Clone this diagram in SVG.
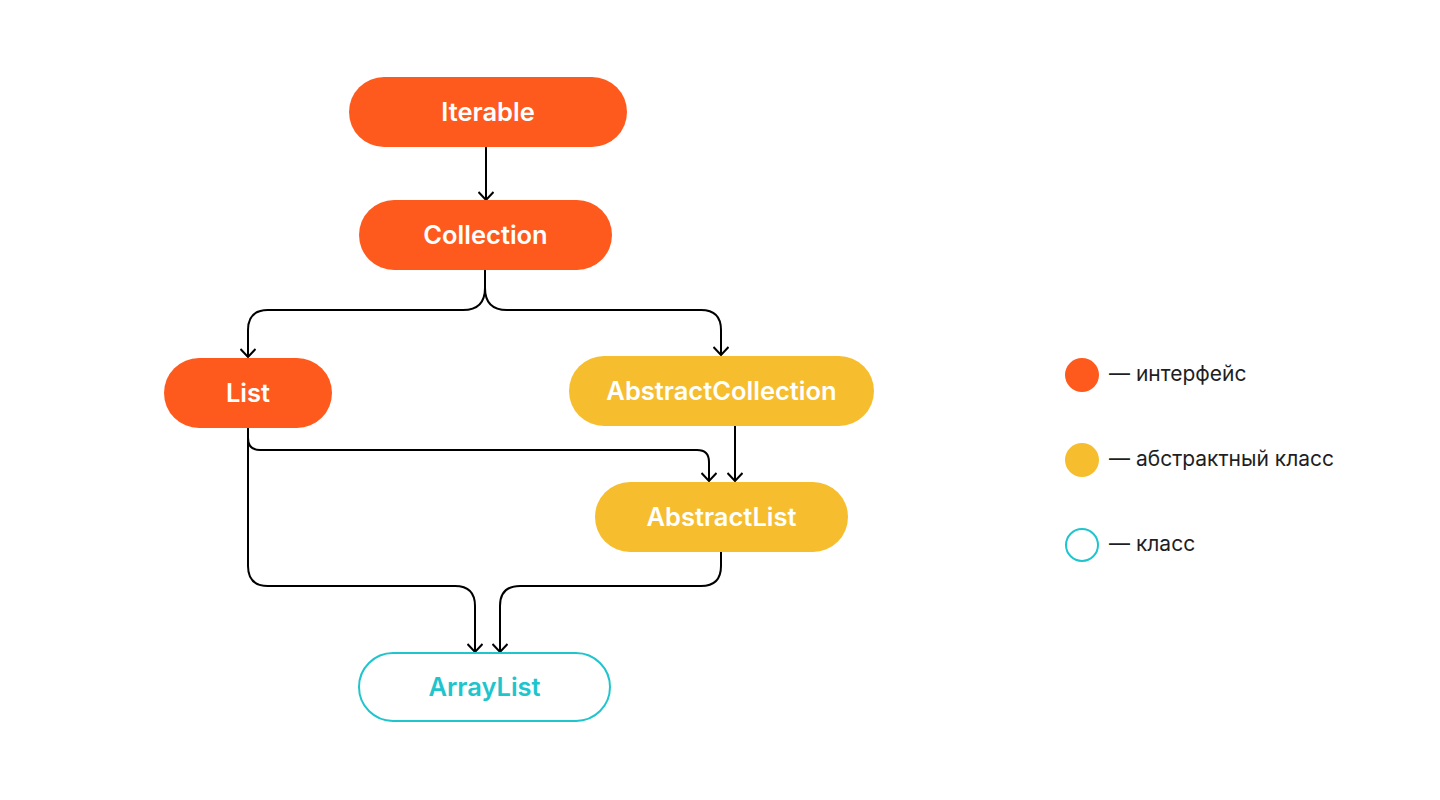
<svg xmlns="http://www.w3.org/2000/svg" width="1440" height="800" viewBox="0 0 1440 800">
<style>
.iface{fill:#FF5A1D;}
.abs{fill:#F6BE2E;}
.cls{fill:#FFFFFF;stroke:#1FC5CD;stroke-width:2;}
.lbl{font-family:Inter,"Noto Sans",sans-serif;font-weight:600;font-size:25.5px;fill:#FFFFFF;text-anchor:middle;}
.lbl-cls{fill:#1FC5CD;}
.edge{fill:none;stroke:#000;stroke-width:2;marker-end:url(#arr);}
.leg{font-family:Inter,"Noto Sans",sans-serif;font-size:21px;fill:#1E1E24;}
</style>
<defs>
<marker id="arr" viewBox="0 0 10 16" refX="9" refY="8" markerWidth="10" markerHeight="16" markerUnits="userSpaceOnUse" orient="auto">
<path d="M1,0.5 L9,8 L1,15.5" fill="none" stroke="#000" stroke-width="2"/>
</marker>
</defs>
<rect width="1440" height="800" fill="#FFFFFF"/>
<g id="connectors">
<path class="edge" d="M486,147 V200"/>
<path class="edge" d="M485,270 V288 Q485,310 463,310 H268 Q248,310 248,330 V357"/>
<path class="edge" d="M485,270 V288 Q485,310 507,310 H701 Q721,310 721,330 V355"/>
<path class="edge" d="M735,426 V481"/>
<path class="edge" d="M248,428 V438 Q248,450 260,450 H697 Q709,450 709,462 V481"/>
<path class="edge" d="M248,428 V566 Q248,586 268,586 H455 Q475,586 475,606 V652"/>
<path class="edge" d="M721,552 V566 Q721,586 701,586 H520 Q500,586 500,606 V652"/>
</g>
<g id="node-iterable">
<rect class="iface" x="349" y="77" width="278" height="70" rx="35"/>
<text class="lbl" x="488" y="121">Iterable</text>
</g>
<g id="node-collection">
<rect class="iface" x="359" y="200" width="253" height="70" rx="35"/>
<text class="lbl" x="485.5" y="244">Collection</text>
</g>
<g id="node-list">
<rect class="iface" x="164" y="358" width="168" height="70" rx="35"/>
<text class="lbl" x="248" y="402">List</text>
</g>
<g id="node-abstractcollection">
<rect class="abs" x="569" y="356" width="305" height="70" rx="35"/>
<text class="lbl" x="721.5" y="400">AbstractCollection</text>
</g>
<g id="node-abstractlist">
<rect class="abs" x="595" y="482" width="253" height="70" rx="35"/>
<text class="lbl" x="721.5" y="526">AbstractList</text>
</g>
<g id="node-arraylist">
<rect class="cls" x="359" y="653" width="251" height="68" rx="34"/>
<text class="lbl lbl-cls" x="484.5" y="696">ArrayList</text>
</g>
<g id="legend">
<circle class="iface" cx="1082" cy="375" r="17"/>
<text class="leg" x="1109" y="381">— интерфейс</text>
<circle class="abs" cx="1082" cy="460" r="17"/>
<text class="leg" x="1109" y="466">— абстрактный класс</text>
<circle class="cls" cx="1082" cy="545" r="16"/>
<text class="leg" x="1109" y="551">— класс</text>
</g>
</svg>
